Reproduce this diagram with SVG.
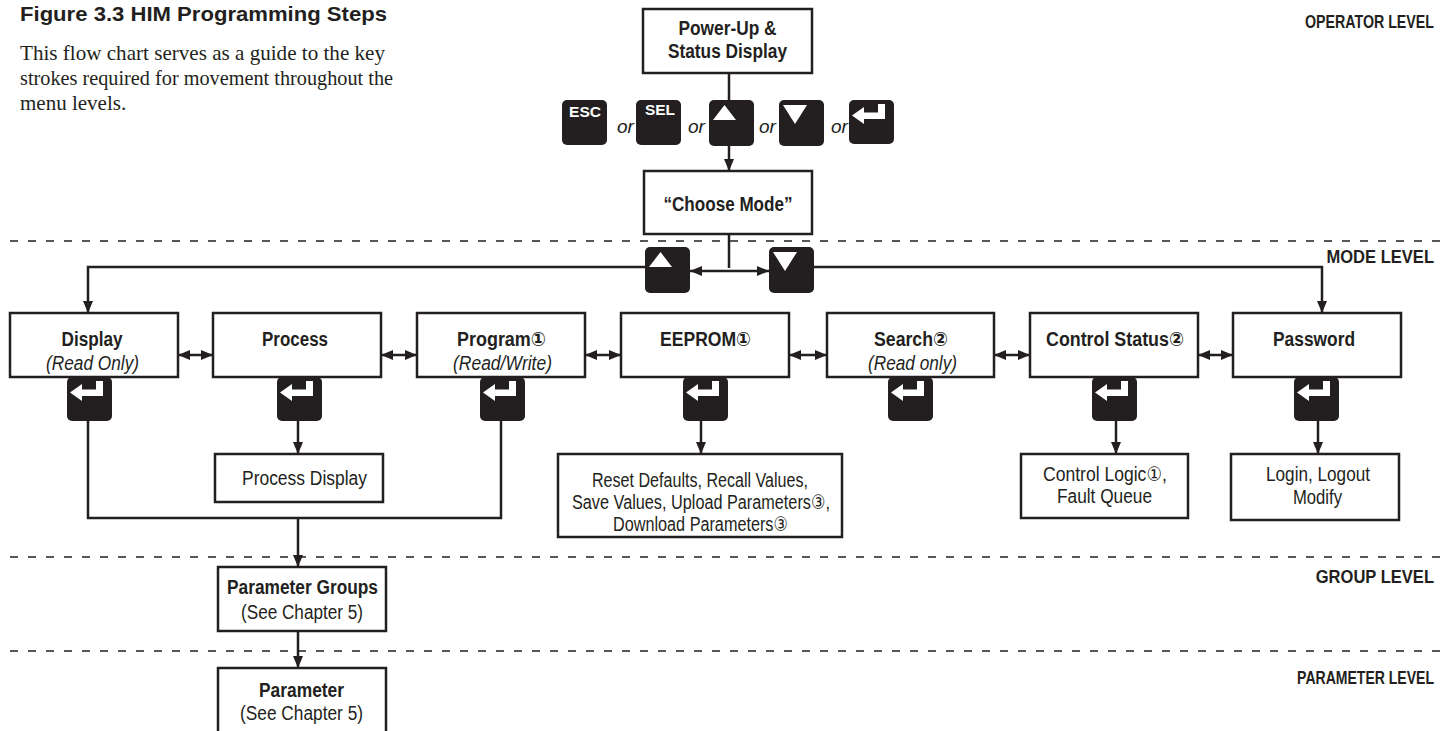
<svg xmlns="http://www.w3.org/2000/svg" width="1440" height="731" viewBox="0 0 1440 731">
<style>
.box{fill:#fff;stroke:#231f20;stroke-width:2.5}
.key{fill:#231f20}
.gl{fill:#fff}
.ln{fill:none;stroke:#231f20;stroke-width:2.5}
.dash{fill:none;stroke:#231f20;stroke-width:1.3;stroke-dasharray:8 10}
text{font-family:"Liberation Sans",Arial,"DejaVu Sans",sans-serif;fill:#231f20}
.b{font-weight:bold;font-size:20px;text-anchor:middle}
.r{font-size:20px;text-anchor:middle}
.i{font-style:italic;font-size:20px;text-anchor:middle}
.or{font-style:italic;font-size:19px}
.lvl{font-weight:bold;font-size:18px;text-anchor:end}
.kt{font-weight:bold;font-size:15px;fill:#fff}
.title{font-weight:bold;font-size:21px}
.body{font-family:"Liberation Serif","Times New Roman",serif;font-size:21px}
</style>
<defs>
<marker id="ah" markerUnits="userSpaceOnUse" markerWidth="12" markerHeight="10" refX="12" refY="5" orient="auto-start-reverse">
<path d="M0,0 L12,5 L0,10 Z" fill="#231f20"/>
</marker>
<g id="enterKey">
<rect class="key" x="0" y="0" width="45" height="44" rx="5"/>
<path class="gl" d="M3,15.5 L15,7 L15,12.5 L29,12.5 L29,4 L36,4 L36,19 L15,19 L15,24 Z"/>
</g>
<g id="upKey">
<rect class="key" x="0" y="0" width="45" height="46" rx="5"/>
<path class="gl" d="M4,20 L15.5,5 L27,20 Z"/>
</g>
<g id="downKey">
<rect class="key" x="0" y="0" width="45" height="46" rx="5"/>
<path class="gl" d="M4,5 L28,5 L16,24 Z"/>
</g>
</defs>

<g id="caption">
<text class="title" x="20" y="21" textLength="367" lengthAdjust="spacingAndGlyphs">Figure 3.3  HIM Programming Steps</text>
<text class="body" x="20" y="60" textLength="365" lengthAdjust="spacingAndGlyphs">This flow chart serves as a guide to the key</text>
<text class="body" x="20" y="85" textLength="373" lengthAdjust="spacingAndGlyphs">strokes required for movement throughout the</text>
<text class="body" x="20" y="110">menu levels.</text>
</g>

<g id="levels">
<line class="dash" x1="10" y1="241" x2="1440" y2="241"/>
<line class="dash" x1="10" y1="557" x2="1440" y2="557"/>
<line class="dash" x1="10" y1="651" x2="1440" y2="651"/>
<text class="lvl" transform="translate(1434,28) scale(0.79,1)">OPERATOR LEVEL</text>
<text class="lvl" transform="translate(1434,263) scale(0.92,1)">MODE LEVEL</text>
<text class="lvl" transform="translate(1434,583) scale(0.92,1)">GROUP LEVEL</text>
<text class="lvl" transform="translate(1434,684) scale(0.78,1)">PARAMETER LEVEL</text>
</g>

<g id="connectors">
<line class="ln" x1="729" y1="73" x2="729" y2="100"/>
<line class="ln" x1="729" y1="145" x2="729" y2="171" marker-end="url(#ah)"/>
<line class="ln" x1="729" y1="234" x2="729" y2="268"/>
<line class="ln" x1="690" y1="271" x2="769" y2="271" marker-start="url(#ah)" marker-end="url(#ah)"/>
<polyline class="ln" points="645,267 88,267 88,313" marker-end="url(#ah)"/>
<polyline class="ln" points="814,267 1322,267 1322,313" marker-end="url(#ah)"/>
<line class="ln" x1="178" y1="355" x2="213" y2="355" marker-start="url(#ah)" marker-end="url(#ah)"/>
<line class="ln" x1="381" y1="355" x2="417" y2="355" marker-start="url(#ah)" marker-end="url(#ah)"/>
<line class="ln" x1="585" y1="355" x2="621" y2="355" marker-start="url(#ah)" marker-end="url(#ah)"/>
<line class="ln" x1="789" y1="355" x2="827" y2="355" marker-start="url(#ah)" marker-end="url(#ah)"/>
<line class="ln" x1="994" y1="355" x2="1030" y2="355" marker-start="url(#ah)" marker-end="url(#ah)"/>
<line class="ln" x1="1198" y1="355" x2="1233" y2="355" marker-start="url(#ah)" marker-end="url(#ah)"/>
<line class="ln" x1="298" y1="421" x2="298" y2="454" marker-end="url(#ah)"/>
<line class="ln" x1="701" y1="421" x2="701" y2="454" marker-end="url(#ah)"/>
<line class="ln" x1="1116" y1="421" x2="1116" y2="454" marker-end="url(#ah)"/>
<line class="ln" x1="1318" y1="421" x2="1318" y2="454" marker-end="url(#ah)"/>
<polyline class="ln" points="88,421 88,518 501,518 501,421"/>
<line class="ln" x1="298" y1="518" x2="298" y2="567" marker-end="url(#ah)"/>
<line class="ln" x1="298" y1="631" x2="298" y2="668" marker-end="url(#ah)"/>
</g>

<g id="powerup">
<rect class="box" x="643" y="9" width="169" height="64"/>
<text class="b" x="727.5" y="35" textLength="98" lengthAdjust="spacingAndGlyphs">Power-Up &amp;</text>
<text class="b" x="727.5" y="58" textLength="119" lengthAdjust="spacingAndGlyphs">Status Display</text>
</g>

<g id="keys-top">
<rect class="key" x="562" y="100" width="45" height="45" rx="5"/>
<text class="kt" x="569" y="117" textLength="32" lengthAdjust="spacingAndGlyphs">ESC</text>
<text class="or" x="617" y="133">or</text>
<rect class="key" x="636" y="100" width="45" height="45" rx="5"/>
<text class="kt" x="645" y="115" textLength="30" lengthAdjust="spacingAndGlyphs">SEL</text>
<text class="or" x="688" y="133">or</text>
<use href="#upKey" x="709" y="100"/>
<text class="or" x="759" y="133">or</text>
<use href="#downKey" x="779" y="100"/>
<text class="or" x="831" y="133">or</text>
<use href="#enterKey" x="849" y="100"/>
</g>

<g id="choosemode">
<rect class="box" x="644" y="171" width="168" height="63"/>
<text class="b" x="728" y="211" textLength="129" lengthAdjust="spacingAndGlyphs">“Choose Mode”</text>
</g>

<g id="keys-mode">
<use href="#upKey" x="645" y="247"/>
<use href="#downKey" x="769" y="247"/>
</g>

<g id="display">
<rect class="box" x="10" y="313" width="168" height="64"/>
<text class="b" x="92" y="346" textLength="61" lengthAdjust="spacingAndGlyphs">Display</text>
<text class="i" x="92.5" y="370" textLength="93" lengthAdjust="spacingAndGlyphs">(Read Only)</text>
<use href="#enterKey" x="67" y="377"/>
</g>

<g id="process">
<rect class="box" x="213" y="313" width="168" height="64"/>
<text class="b" x="295" y="346" textLength="66" lengthAdjust="spacingAndGlyphs">Process</text>
<use href="#enterKey" x="277" y="377"/>
</g>

<g id="program">
<rect class="box" x="417" y="313" width="168" height="64"/>
<text class="b" x="501.5" y="346" textLength="89" lengthAdjust="spacingAndGlyphs">Program①</text>
<text class="i" x="502.5" y="370" textLength="99" lengthAdjust="spacingAndGlyphs">(Read/Write)</text>
<use href="#enterKey" x="480" y="377"/>
</g>

<g id="eeprom">
<rect class="box" x="621" y="313" width="168" height="64"/>
<text class="b" x="705.5" y="346" textLength="91" lengthAdjust="spacingAndGlyphs">EEPROM①</text>
<use href="#enterKey" x="683" y="377"/>
</g>

<g id="search">
<rect class="box" x="827" y="313" width="167" height="64"/>
<text class="b" x="911" y="346" textLength="74" lengthAdjust="spacingAndGlyphs">Search②</text>
<text class="i" x="912.5" y="370" textLength="89" lengthAdjust="spacingAndGlyphs">(Read only)</text>
<use href="#enterKey" x="888" y="377"/>
</g>

<g id="controlstatus">
<rect class="box" x="1030" y="313" width="168" height="64"/>
<text class="b" x="1115" y="346" textLength="138" lengthAdjust="spacingAndGlyphs">Control Status②</text>
<use href="#enterKey" x="1092" y="377"/>
</g>

<g id="password">
<rect class="box" x="1233" y="313" width="168" height="64"/>
<text class="b" x="1314" y="346" textLength="82" lengthAdjust="spacingAndGlyphs">Password</text>
<use href="#enterKey" x="1294" y="377"/>
</g>

<g id="processdisplay">
<rect class="box" x="215" y="454" width="168" height="48"/>
<text class="r" x="304.5" y="485" textLength="125" lengthAdjust="spacingAndGlyphs">Process Display</text>
</g>

<g id="eepromfunctions">
<rect class="box" x="558" y="454" width="284" height="83"/>
<text class="r" x="700" y="487" textLength="216" lengthAdjust="spacingAndGlyphs">Reset Defaults, Recall Values,</text>
<text class="r" x="701" y="509" textLength="258" lengthAdjust="spacingAndGlyphs">Save Values, Upload Parameters③,</text>
<text class="r" x="700.5" y="531" textLength="175" lengthAdjust="spacingAndGlyphs">Download Parameters③</text>
</g>

<g id="controlfunctions">
<rect class="box" x="1021" y="454" width="167" height="64"/>
<text class="r" x="1105" y="481" textLength="124" lengthAdjust="spacingAndGlyphs">Control Logic①,</text>
<text class="r" x="1104.5" y="503" textLength="95" lengthAdjust="spacingAndGlyphs">Fault Queue</text>
</g>

<g id="passwordfunctions">
<rect class="box" x="1231" y="454" width="168" height="66"/>
<text class="r" x="1318" y="481" textLength="104" lengthAdjust="spacingAndGlyphs">Login, Logout</text>
<text class="r" x="1317.5" y="504" textLength="49" lengthAdjust="spacingAndGlyphs">Modify</text>
</g>

<g id="parametergroups">
<rect class="box" x="218" y="567" width="168" height="64"/>
<text class="b" x="302.5" y="594" textLength="151" lengthAdjust="spacingAndGlyphs">Parameter Groups</text>
<text class="r" x="302" y="619" textLength="122" lengthAdjust="spacingAndGlyphs">(See Chapter 5)</text>
</g>

<g id="parameter">
<rect class="box" x="218" y="668" width="168" height="70"/>
<text class="b" x="301.5" y="697" textLength="85" lengthAdjust="spacingAndGlyphs">Parameter</text>
<text class="r" x="301.5" y="720" textLength="123" lengthAdjust="spacingAndGlyphs">(See Chapter 5)</text>
</g>
</svg>
